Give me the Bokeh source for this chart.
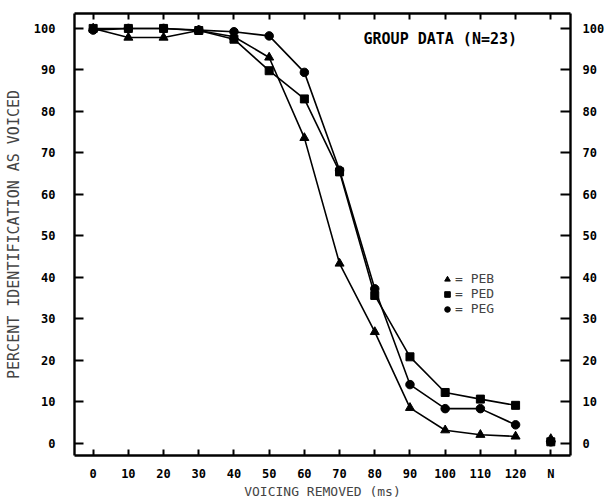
from bokeh.plotting import figure
from bokeh.models import FixedTicker, LinearAxis, Range1d, Legend, LegendItem, Label, ColumnDataSource
from bokeh.embed import file_html
from bokeh.resources import INLINE

# ---- data ----
voicing_removed_ms = [0, 10, 20, 30, 40, 50, 60, 70, 80, 90, 100, 110, 120]
peb = [100, 97.8, 97.8, 99.5, 98.0, 93.0, 73.6, 43.3, 26.8, 8.5, 3.1, 2.0, 1.6]
ped = [100, 100, 100, 99.5, 97.4, 89.8, 83.0, 65.4, 35.6, 20.8, 12.2, 10.6, 9.1]
peg = [99.6, 100, 100, 99.6, 99.2, 98.2, 89.4, 65.8, 37.2, 14.1, 8.3, 8.3, 4.4]
n_position = 130          # the "N" (natural) condition, drawn after 120
n_peb, n_ped, n_peg = 1.0, 0.3, 0.3
x_ticks = voicing_removed_ms + [n_position]
x_tick_labels = {n_position: "N"}
y_ticks = [0, 10, 20, 30, 40, 50, 60, 70, 80, 90, 100]

MONO = "DejaVu Sans Mono"

p = figure(width=607, height=501, output_backend="svg", toolbar_location=None,
           x_range=Range1d(-5.3, 135.6), y_range=Range1d(-3.0, 103.6),
           x_axis_location=None, y_axis_location=None,
           min_border_left=74, min_border_right=37, min_border_top=13, min_border_bottom=44)
p.xgrid.visible = False
p.ygrid.visible = False
p.outline_line_color = None
p.background_fill_color = "white"
p.border_fill_color = "white"


def style_axis(ax):
    ax.axis_line_width = 2.4
    ax.axis_line_color = "black"
    ax.major_tick_line_width = 2
    ax.major_tick_line_color = "black"
    ax.major_tick_out = 0
    ax.minor_tick_out = 0
    ax.minor_tick_in = 0
    ax.major_label_text_font = MONO
    ax.major_label_text_font_style = "bold"
    ax.major_label_text_font_size = "12px"
    ax.major_label_text_color = "black"


left = LinearAxis(ticker=FixedTicker(ticks=y_ticks), axis_label="PERCENT IDENTIFICATION AS VOICED")
style_axis(left)
left.major_tick_in = 9
left.major_label_standoff = 19
left.axis_label_text_font = MONO
left.axis_label_text_font_style = "normal"
left.axis_label_text_font_size = "15px"
left.axis_label_standoff = 8
p.add_layout(left, "left")

right = LinearAxis(ticker=FixedTicker(ticks=y_ticks))
style_axis(right)
right.major_tick_in = 10
right.major_label_standoff = 12
p.add_layout(right, "right")

bottom = LinearAxis(ticker=FixedTicker(ticks=x_ticks), axis_label="VOICING REMOVED (ms)",
                    major_label_overrides=x_tick_labels)
style_axis(bottom)
bottom.major_tick_in = 6
bottom.major_label_standoff = 11
bottom.axis_label_text_font = MONO
bottom.axis_label_text_font_style = "normal"
bottom.axis_label_text_font_size = "13px"
bottom.axis_label_standoff = 0
p.add_layout(bottom, "below")

top = LinearAxis(ticker=FixedTicker(ticks=x_ticks),
                 major_label_overrides={t: "" for t in x_ticks})
style_axis(top)
top.major_tick_in = 6
top.major_label_standoff = 0
p.add_layout(top, "above")

src = ColumnDataSource(dict(x=voicing_removed_ms, peb=peb, ped=ped, peg=peg))
nsrc = ColumnDataSource(dict(x=[n_position], peb=[n_peb], ped=[n_ped], peg=[n_peg]))

renderers = {}
for col, marker, size in [("peb", "triangle", 9), ("ped", "square", 8), ("peg", "circle", 8.5)]:
    p.line("x", col, source=src, line_color="black", line_width=1.6)
    r = p.scatter("x", col, source=src, marker=marker, size=size,
                  fill_color="black", line_color="black")
    p.scatter("x", col, source=nsrc, marker=marker, size=size,
              fill_color="black", line_color="black")
    renderers[col] = r

legend = Legend(items=[LegendItem(label="= PEB", renderers=[renderers["peb"]]),
                       LegendItem(label="= PED", renderers=[renderers["ped"]]),
                       LegendItem(label="= PEG", renderers=[renderers["peg"]])],
                location=(366, 139), orientation="vertical")
legend.border_line_color = None
legend.background_fill_alpha = 0
legend.padding = 0
legend.margin = 0
legend.spacing = 0
legend.glyph_width = 14
legend.glyph_height = 14
legend.label_height = 14
legend.label_standoff = 1
legend.label_text_font = MONO
legend.label_text_font_size = "13px"
legend.label_text_font_style = "normal"
legend.label_text_baseline = "middle"
p.add_layout(legend, "center")

title = Label(x=76.8, y=97.4, text="GROUP DATA (N=23)", text_font=MONO,
              text_font_style="bold", text_font_size="15px", text_baseline="middle",
              text_color="black")
p.add_layout(title)

open("out.html", "w").write(file_html(p, INLINE))
